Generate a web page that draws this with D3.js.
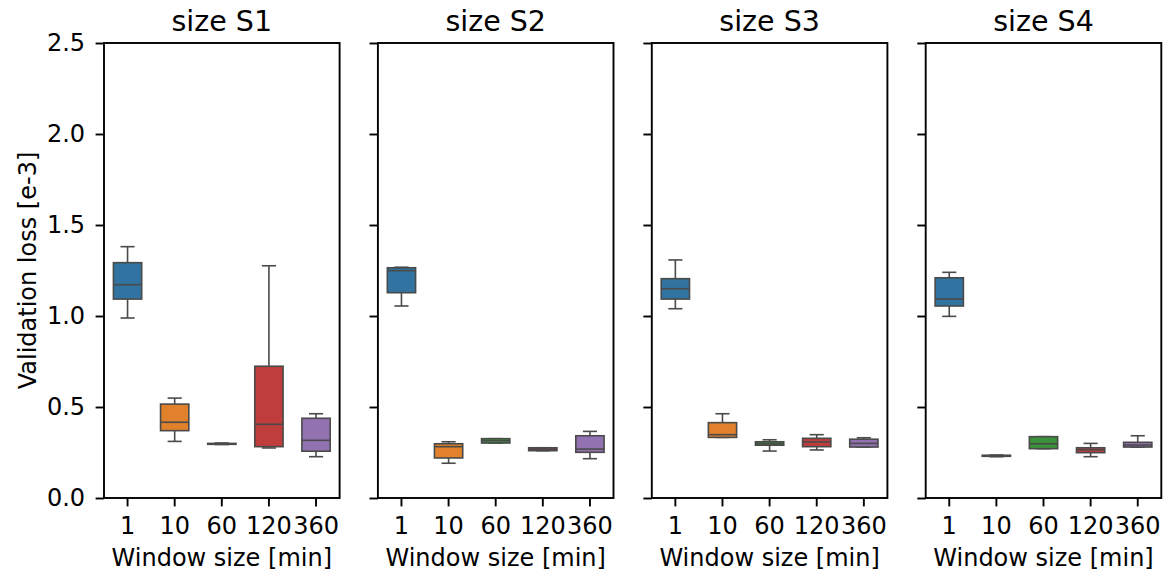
<!DOCTYPE html>
<html>
<head>
<meta charset="utf-8">
<script src="https://cdn.jsdelivr.net/npm/d3@7"></script>
<style>
  body { margin: 0; background: #fff; }
  svg { display: block; font-family: "DejaVu Sans", sans-serif; }
</style>
</head>
<body>
<svg id="chart" width="1171" height="579"></svg>
<script>
// box stats per window: [whisker low, q1, median, q3, whisker high]
var sizes = ['S1', 'S2', 'S3', 'S4'];
var windows = ['1', '10', '60', '120', '360'];
var yTicks = [0, 0.5, 1.0, 1.5, 2.0, 2.5];
var colors = ['#3274a1', '#e1812c', '#3a923a', '#c03d3e', '#9372b2'];

var statsS1 = [
    [0.989, 1.093, 1.172, 1.293, 1.381],
    [0.311, 0.370, 0.416, 0.516, 0.549],
    [0.294, 0.295, 0.297, 0.300, 0.302],
    [0.275, 0.282, 0.405, 0.724, 1.276],
    [0.227, 0.257, 0.317, 0.438, 0.463]
];
var statsS2 = [
    [1.055, 1.128, 1.249, 1.265, 1.268],
    [0.191, 0.220, 0.282, 0.298, 0.309],
    [0.302, 0.302, 0.315, 0.326, 0.326],
    [0.260, 0.260, 0.268, 0.276, 0.276],
    [0.216, 0.251, 0.269, 0.342, 0.366]
];
var statsS3 = [
    [1.040, 1.093, 1.150, 1.205, 1.308],
    [0.333, 0.333, 0.348, 0.414, 0.463],
    [0.258, 0.290, 0.298, 0.309, 0.320],
    [0.264, 0.282, 0.308, 0.328, 0.348],
    [0.280, 0.280, 0.300, 0.323, 0.331]
];
var statsS4 = [
    [0.998, 1.055, 1.093, 1.210, 1.240],
    [0.227, 0.229, 0.231, 0.235, 0.236],
    [0.271, 0.271, 0.298, 0.337, 0.337],
    [0.227, 0.249, 0.265, 0.276, 0.300],
    [0.280, 0.280, 0.291, 0.306, 0.342]
];
var allStats = [statsS1, statsS2, statsS3, statsS4];

(function () {
    var svg = d3.select('#chart'),
        plotTop = 43,
        plotBottom = 498,
        panelW = 235.6,
        panelStep = 273.9,
        left0 = 104,
        edge = '#4a4a4a';

    var y = d3.scaleLinear().domain([0, 2.5]).range([plotBottom, plotTop]);

    sizes.forEach(function (size, p) {
        var x0 = left0 + p * panelStep,
            g = svg.append('g'),
            stats = allStats[p];

        var x = d3.scaleBand().domain(windows).range([x0, x0 + panelW]).padding(0);
        var bw = x.bandwidth() * 0.6;

        // whiskers, caps, box, median
        var box = g.selectAll('g.box').data(stats).enter().append('g').attr('class', 'box');
        box.each(function (s, i) {
            var b = d3.select(this),
                cx = x(windows[i]) + x.bandwidth() / 2;
            b.append('line').attr('x1', cx).attr('x2', cx)
                .attr('y1', y(s[3])).attr('y2', y(s[4]));
            b.append('line').attr('x1', cx).attr('x2', cx)
                .attr('y1', y(s[1])).attr('y2', y(s[0]));
            b.append('line').attr('x1', cx - bw / 4).attr('x2', cx + bw / 4)
                .attr('y1', y(s[4])).attr('y2', y(s[4]));
            b.append('line').attr('x1', cx - bw / 4).attr('x2', cx + bw / 4)
                .attr('y1', y(s[0])).attr('y2', y(s[0]));
            b.append('rect')
                .attr('x', cx - bw / 2).attr('width', bw)
                .attr('y', y(s[3])).attr('height', Math.max(0.5, y(s[1]) - y(s[3])))
                .attr('fill', colors[i]);
            b.append('line').attr('x1', cx - bw / 2).attr('x2', cx + bw / 2)
                .attr('y1', y(s[2])).attr('y2', y(s[2]));
            b.selectAll('line, rect').attr('stroke', edge).attr('stroke-width', 1.6);
        });

        // axes
        var yAxis = d3.axisLeft(y).tickValues(yTicks).tickSize(8.4).tickPadding(10.5)
            .tickFormat(p === 0 ? d3.format('.1f') : function () { return ''; });
        var ya = g.append('g').attr('transform', 'translate(' + x0 + ',0)').call(yAxis);

        var xAxis = d3.axisBottom(x).tickSize(8.4).tickPadding(10.5);
        var xa = g.append('g').attr('transform', 'translate(0,' + plotBottom + ')').call(xAxis);

        [ya, xa].forEach(function (a) {
            a.select('.domain').remove();
            a.selectAll('.tick line').attr('stroke', '#000').attr('stroke-width', 1.9);
            a.selectAll('.tick text').attr('fill', '#000').style('font-size', '24px')
                .style('font-family', '"DejaVu Sans", sans-serif');
        });

        // frame
        g.append('rect')
            .attr('x', x0).attr('y', plotTop)
            .attr('width', panelW).attr('height', plotBottom - plotTop)
            .attr('fill', 'none').attr('stroke', '#000').attr('stroke-width', 1.9);

        g.append('text')
            .attr('x', x0 + panelW / 2).attr('y', 31)
            .attr('text-anchor', 'middle')
            .style('font-size', '28.5px')
            .text('size ' + size);

        g.append('text')
            .attr('x', x0 + panelW / 2).attr('y', 566)
            .attr('text-anchor', 'middle')
            .style('font-size', '24px')
            .text('Window size [min]');
    });

    svg.append('text')
        .attr('transform', 'translate(36,' + ((plotTop + plotBottom) / 2) + ') rotate(-90)')
        .attr('text-anchor', 'middle')
        .style('font-size', '24px')
        .text('Validation loss [e-3]');
})();
</script>
</body>
</html>
